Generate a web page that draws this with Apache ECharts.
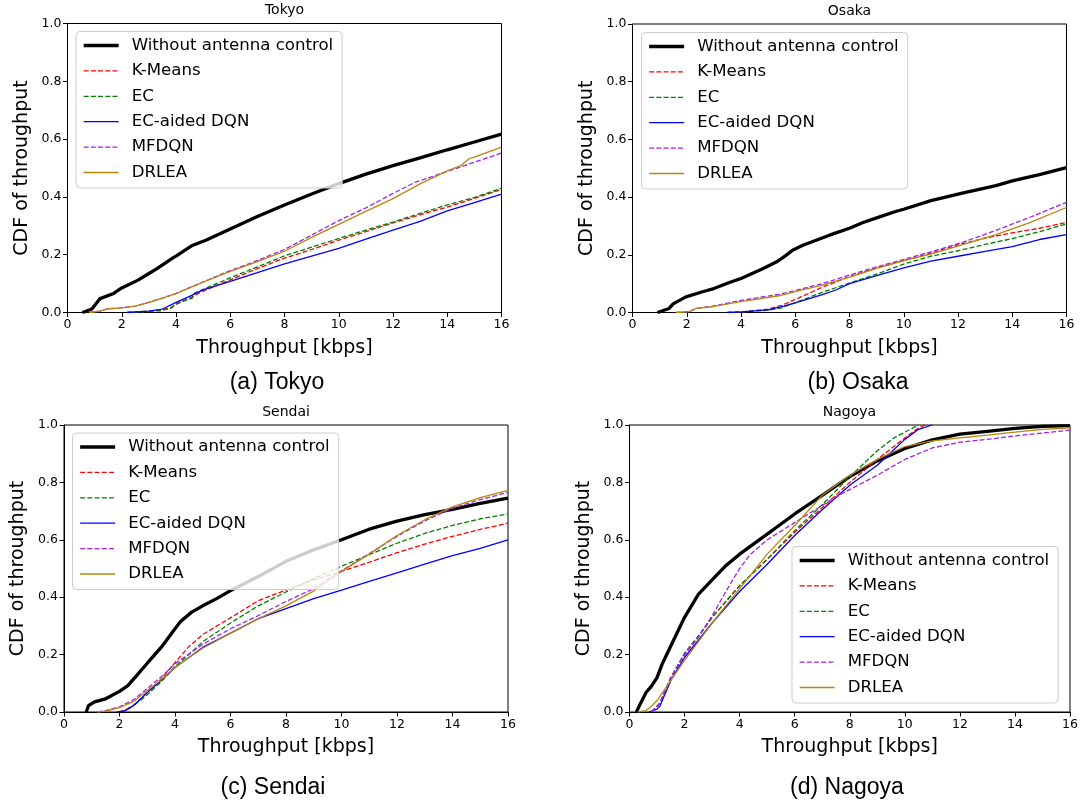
<!DOCTYPE html>
<html>
<head>
<meta charset="utf-8">
<script src="https://cdn.jsdelivr.net/npm/echarts@6/dist/echarts.min.js"></script>
<style>
html,body{margin:0;padding:0;background:#fff;}
#chart{width:1083px;height:807px;}
</style>
</head>
<body>
<div id="chart"></div>
<script>
// ---------- labels ----------
var seriesNames = ['Without antenna control','K-Means','EC','EC-aided DQN','MFDQN','DRLEA'];
var cityTitles = ['Tokyo','Osaka','Sendai','Nagoya'];
var captions = ['(a) Tokyo','(b) Osaka','(c) Sendai','(d) Nagoya'];
var xTickValues = [0,2,4,6,8,10,12,14,16];
var yTickLabels = ['0.0','0.2','0.4','0.6','0.8','1.0'];
var xAxisTitle = 'Throughput [kbps]';
var yAxisTitle = 'CDF of throughput';

// ---------- Tokyo [throughput, CDF] ----------
var tokyoWithout = [[0.55,0],[0.9,0.012],[1.05,0.03],[1.2,0.048],[1.7,0.066],[2,0.085],[2.6,0.112],[3,0.135],[3.3,0.152],[3.9,0.19],[4,0.195],[4.6,0.232],[5.1,0.25],[6,0.289],[7,0.332],[8,0.372],[9,0.41],[10,0.446],[11,0.479],[12,0.508],[13,0.535],[14,0.563],[15,0.59],[16,0.617]];
var tokyoKMeans = [[2.2,0],[3,0.004],[3.5,0.01],[3.8,0.016],[4,0.03],[4.5,0.05],[5,0.074],[6,0.113],[7,0.152],[8,0.188],[9,0.218],[10,0.25],[11,0.28],[12,0.31],[13,0.338],[14,0.365],[15,0.395],[16,0.426]];
var tokyoEC = [[2.2,0],[3,0.004],[3.4,0.006],[3.8,0.014],[4,0.028],[4.3,0.04],[4.6,0.05],[4.7,0.068],[5,0.08],[6,0.12],[7,0.158],[8,0.196],[9,0.226],[10,0.256],[11,0.285],[12,0.313],[13,0.343],[14,0.372],[15,0.398],[16,0.43]];
var tokyoECDQN = [[2.2,0],[3,0.005],[3.5,0.012],[4,0.035],[4.5,0.056],[5,0.078],[6,0.108],[7,0.138],[8,0.168],[9,0.195],[10,0.222],[11,0.254],[12,0.285],[13,0.315],[14,0.352],[15,0.38],[16,0.41]];
var tokyoMFDQN = [[0.8,0],[1.2,0.005],[1.5,0.013],[2,0.016],[2.5,0.022],[3,0.035],[3.5,0.05],[4,0.066],[5,0.106],[6,0.145],[7,0.18],[8,0.218],[9,0.268],[10,0.318],[11,0.362],[12,0.412],[12.8,0.45],[13,0.456],[14,0.488],[15,0.52],[16,0.552]];
var tokyoDRLEA = [[0.8,0],[1.2,0.005],[1.5,0.013],[2,0.016],[2.5,0.022],[3,0.035],[3.5,0.05],[4,0.065],[5,0.105],[6,0.142],[7,0.176],[8,0.212],[9,0.26],[10,0.305],[11,0.35],[12,0.394],[13,0.445],[14,0.49],[14.5,0.508],[14.8,0.532],[15,0.538],[16,0.572]];

// ---------- Osaka ----------
var osakaWithout = [[0.92,0],[1.35,0.014],[1.5,0.03],[1.97,0.054],[2.58,0.072],[3,0.083],[3.57,0.104],[4,0.118],[4.8,0.152],[5.3,0.175],[5.66,0.198],[5.9,0.216],[6.28,0.233],[7.26,0.268],[8,0.292],[8.5,0.312],[9,0.328],[9.7,0.35],[10,0.358],[11,0.388],[12.2,0.415],[13.4,0.44],[14,0.456],[15,0.478],[16,0.502]];
var osakaKMeans = [[3.5,0],[4,0.002],[5,0.012],[5.5,0.025],[6,0.045],[7,0.088],[8,0.124],[9,0.155],[10,0.18],[11,0.206],[12,0.234],[13,0.258],[14,0.276],[15,0.292],[16,0.312]];
var osakaEC = [[3.5,0],[4,0.002],[5,0.008],[5.5,0.016],[6,0.034],[7,0.07],[8,0.102],[9,0.133],[10,0.168],[11,0.195],[12,0.214],[13,0.236],[14,0.256],[15,0.28],[16,0.307]];
var osakaECDQN = [[3.5,0],[4,0.002],[5,0.009],[5.5,0.02],[6,0.033],[7,0.062],[7.5,0.078],[8,0.1],[9,0.128],[10,0.155],[11,0.178],[12,0.195],[13,0.212],[14,0.228],[15,0.253],[16,0.27]];
var osakaMFDQN = [[1.6,0],[2.1,0.003],[2.34,0.014],[2.95,0.022],[4,0.042],[5.4,0.063],[6,0.076],[6.65,0.092],[7,0.1],[7.9,0.127],[9,0.158],[9.7,0.176],[10,0.184],[11,0.21],[12.2,0.244],[13.4,0.285],[14.6,0.328],[16,0.382]];
var osakaDRLEA = [[1.6,0],[2.1,0.003],[2.34,0.014],[2.95,0.02],[4,0.038],[5.4,0.058],[6,0.072],[7,0.095],[8,0.123],[9,0.153],[10,0.18],[11,0.202],[12.2,0.236],[13.4,0.27],[14.6,0.31],[16,0.364]];

// ---------- Sendai ----------
var sendaiWithout = [[0.8,0],[0.88,0.022],[1.1,0.035],[1.5,0.046],[2,0.072],[2.3,0.092],[2.6,0.125],[3,0.17],[3.5,0.225],[4,0.29],[4.2,0.315],[4.6,0.348],[5,0.37],[5.5,0.395],[6,0.423],[7,0.472],[8,0.525],[9,0.565],[10,0.6],[11,0.637],[12,0.665],[13,0.688],[14,0.706],[15,0.727],[16,0.745]];
var sendaiKMeans = [[2,0],[2.3,0.012],[2.6,0.03],[3,0.068],[3.5,0.115],[4,0.172],[4.5,0.228],[5,0.27],[6,0.328],[7,0.388],[8,0.425],[9,0.46],[10,0.49],[11,0.522],[12,0.555],[13,0.585],[14,0.612],[15,0.636],[16,0.658]];
var sendaiEC = [[2.1,0],[2.5,0.022],[3,0.06],[3.5,0.105],[4,0.158],[4.5,0.2],[5,0.245],[6,0.31],[7,0.37],[8,0.418],[9,0.465],[10,0.508],[11,0.548],[12,0.588],[13,0.622],[14,0.65],[15,0.673],[16,0.69]];
var sendaiECDQN = [[1.9,0],[2.2,0.004],[2.5,0.022],[3,0.068],[3.5,0.11],[4,0.155],[4.5,0.19],[5,0.225],[6,0.275],[7,0.325],[8,0.36],[9,0.395],[10,0.425],[11,0.455],[12,0.485],[13,0.515],[14,0.545],[15,0.57],[16,0.6]];
var sendaiMFDQN = [[1.2,0],[1.5,0.005],[2,0.018],[2.5,0.042],[3,0.082],[3.5,0.122],[4,0.168],[4.5,0.202],[5,0.236],[6,0.29],[7,0.336],[8,0.385],[9,0.43],[10,0.492],[11,0.552],[12,0.612],[13,0.666],[14,0.71],[15,0.74],[16,0.765]];
var sendaiDRLEA = [[1.2,0],[1.5,0.003],[2,0.015],[2.5,0.036],[3,0.075],[3.5,0.112],[4,0.155],[4.5,0.19],[5,0.222],[6,0.275],[7,0.325],[8,0.37],[9,0.422],[10,0.49],[11,0.55],[12,0.615],[13,0.67],[14,0.715],[15,0.747],[16,0.772]];

// ---------- Nagoya ----------
var nagoyaWithout = [[0.25,0],[0.4,0.03],[0.6,0.068],[0.8,0.09],[1,0.12],[1.2,0.17],[1.5,0.23],[2,0.33],[2.5,0.41],[3,0.46],[3.5,0.51],[4,0.55],[5,0.62],[6,0.69],[7,0.755],[8,0.82],[9,0.875],[10,0.918],[11,0.948],[12,0.968],[13,0.978],[14,0.988],[15,0.995],[16,0.998]];
var nagoyaKMeans = [[0.8,0],[1.1,0.03],[1.5,0.12],[2,0.2],[2.5,0.262],[3,0.33],[4,0.44],[5,0.532],[6,0.626],[7,0.712],[8,0.8],[9,0.88],[10,0.955],[10.5,0.99],[10.75,1.0]];
var nagoyaEC = [[0.8,0],[1.1,0.03],[1.5,0.12],[2,0.205],[2.5,0.265],[3,0.33],[4,0.44],[5,0.532],[6,0.632],[7,0.722],[8,0.82],[9,0.91],[9.6,0.955],[10,0.975],[10.5,1.0]];
var nagoyaECDQN = [[0.7,0],[1,0.01],[1.1,0.02],[1.5,0.11],[2,0.19],[2.5,0.25],[3,0.31],[4,0.42],[5,0.515],[6,0.615],[7,0.705],[8,0.79],[9,0.86],[9.5,0.905],[10,0.95],[10.5,0.985],[11,1.0]];
var nagoyaMFDQN = [[0.8,0],[1.1,0.03],[1.5,0.12],[2,0.2],[2.5,0.26],[3,0.335],[3.5,0.42],[4,0.5],[4.4,0.55],[5,0.6],[6,0.66],[7,0.72],[7.5,0.75],[8,0.775],[9,0.825],[10,0.88],[11,0.92],[12,0.94],[13,0.95],[14,0.962],[15,0.972],[16,0.982]];
var nagoyaDRLEA = [[0.3,0],[0.6,0.005],[0.8,0.02],[1,0.04],[1.5,0.11],[2,0.18],[2.5,0.245],[3,0.31],[4,0.43],[5,0.55],[6,0.65],[7,0.755],[8,0.825],[9,0.88],[10,0.925],[11,0.945],[12,0.955],[13,0.965],[14,0.975],[15,0.985],[16,0.99]];

var cityData = [
  [tokyoWithout, tokyoKMeans, tokyoEC, tokyoECDQN, tokyoMFDQN, tokyoDRLEA],
  [osakaWithout, osakaKMeans, osakaEC, osakaECDQN, osakaMFDQN, osakaDRLEA],
  [sendaiWithout, sendaiKMeans, sendaiEC, sendaiECDQN, sendaiMFDQN, sendaiDRLEA],
  [nagoyaWithout, nagoyaKMeans, nagoyaEC, nagoyaECDQN, nagoyaMFDQN, nagoyaDRLEA]
];

// ---------- styles ----------
var lineColors = ['#000000','#ff0000','#008000','#0000ff','#a020f0','#b8860b'];
var lineWidths = [3.3,1.3,1.3,1.3,1.3,1.3];
var dash = [5,2.2];
var lineTypes = ['solid',dash,dash,'solid',dash,'solid'];

var grids = [
  {left:67.5, top:23.5, width:434, height:289},
  {left:632.5, top:24, width:434, height:288.5},
  {left:64, top:425, width:444, height:287},
  {left:629.5, top:425, width:440.5, height:287}
];
var legendPos = [
  {left:76, top:31.5},
  {left:641.5, top:32.5},
  {left:72.5, top:433},
  {left:792, top:546.5}
];
var titlePos = [[284.5,10],[849.5,11],[286,412],[849.5,412]];
var captionPos = [[277,383],[858,383],[273,788],[847,788]];

var FONT = 'DejaVu Sans';

var option = {
  backgroundColor:'#fff',
  animation:false,
  grid:[], xAxis:[], yAxis:[], series:[], legend:[], graphic:[]
};

for (var c=0;c<4;c++){
  var g = grids[c];
  option.grid.push({left:g.left, top:g.top, width:g.width, height:g.height, show:true, borderColor:'#000', borderWidth:1, backgroundColor:'transparent', containLabel:false});
  option.xAxis.push({
    type:'value', gridIndex:c, min:0, max:16, interval:2,
    name:xAxisTitle, nameLocation:'middle', nameGap:26,
    nameTextStyle:{fontFamily:FONT, fontSize:19, color:'#000'},
    axisLine:{show:true, onZero:false, lineStyle:{color:'#000', width:1}},
    axisTick:{show:true, length:4.5, lineStyle:{color:'#000', width:1}},
    axisLabel:{fontFamily:FONT, fontSize:12.5, color:'#000', margin:6,
      formatter:function(v){ return xTickValues.indexOf(v)>=0 ? String(v) : ''; }},
    splitLine:{show:false}
  });
  option.yAxis.push({
    type:'value', gridIndex:c, min:0, max:1, interval:0.2,
    name:yAxisTitle, nameLocation:'middle', nameGap:36,
    nameTextStyle:{fontFamily:FONT, fontSize:19, color:'#000'},
    axisLine:{show:true, onZero:false, lineStyle:{color:'#000', width:1}},
    axisTick:{show:true, length:4.5, lineStyle:{color:'#000', width:1}},
    axisLabel:{fontFamily:FONT, fontSize:12.5, color:'#000', margin:6,
      formatter:function(v){ return yTickLabels[Math.round(v*5)]; }},
    splitLine:{show:false}
  });
  for (var s=0;s<6;s++){
    option.series.push({
      type:'line', name:seriesNames[s], xAxisIndex:c, yAxisIndex:c,
      data:cityData[c][s], showSymbol:false, symbol:'none', smooth:false,
      lineStyle:{color:lineColors[s], width:lineWidths[s], type:lineTypes[s]},
      itemStyle:{color:lineColors[s]},
      emphasis:{disabled:true}, silent:true, clip:true
    });
  }
  var ld = [];
  for (var s2=0;s2<6;s2++){
    ld.push({name:seriesNames[s2],
      itemStyle:{color:'rgba(0,0,0,0)', borderColor:'rgba(0,0,0,0)', borderWidth:0, opacity:0},
      lineStyle:{color:lineColors[s2], width:lineWidths[s2], type:lineTypes[s2], opacity:1}});
  }
  option.legend.push({
    orient:'vertical', left:legendPos[c].left, top:legendPos[c].top,
    data:ld, itemWidth:35, itemHeight:14, itemGap:5.4,
    padding:[4,9,5.5,6],
    itemStyle:{color:'rgba(0,0,0,0)', borderColor:'rgba(0,0,0,0)', borderWidth:0, opacity:0},
    backgroundColor:'rgba(255,255,255,0.8)', borderColor:'#cccccc', borderWidth:1, borderRadius:4,
    textStyle:{fontFamily:FONT, fontSize:16.6, color:'#000', lineHeight:20, padding:[0,0,0,8]},
    selectedMode:false, inactiveColor:'#000'
  });
  option.graphic.push({
    type:'text', silent:true,
    x:titlePos[c][0], y:titlePos[c][1],
    style:{text:cityTitles[c], font:'14px "DejaVu Sans"', fill:'#000', textAlign:'center', textVerticalAlign:'middle'}
  });
  option.graphic.push({
    type:'text', silent:true,
    x:captionPos[c][0], y:captionPos[c][1],
    style:{text:captions[c], font:'23px "Liberation Sans"', fill:'#000', textAlign:'center', textVerticalAlign:'middle'}
  });
}

var chart = echarts.init(document.getElementById('chart'), null, {renderer:'canvas'});
chart.setOption(option);
</script>
</body>
</html>
